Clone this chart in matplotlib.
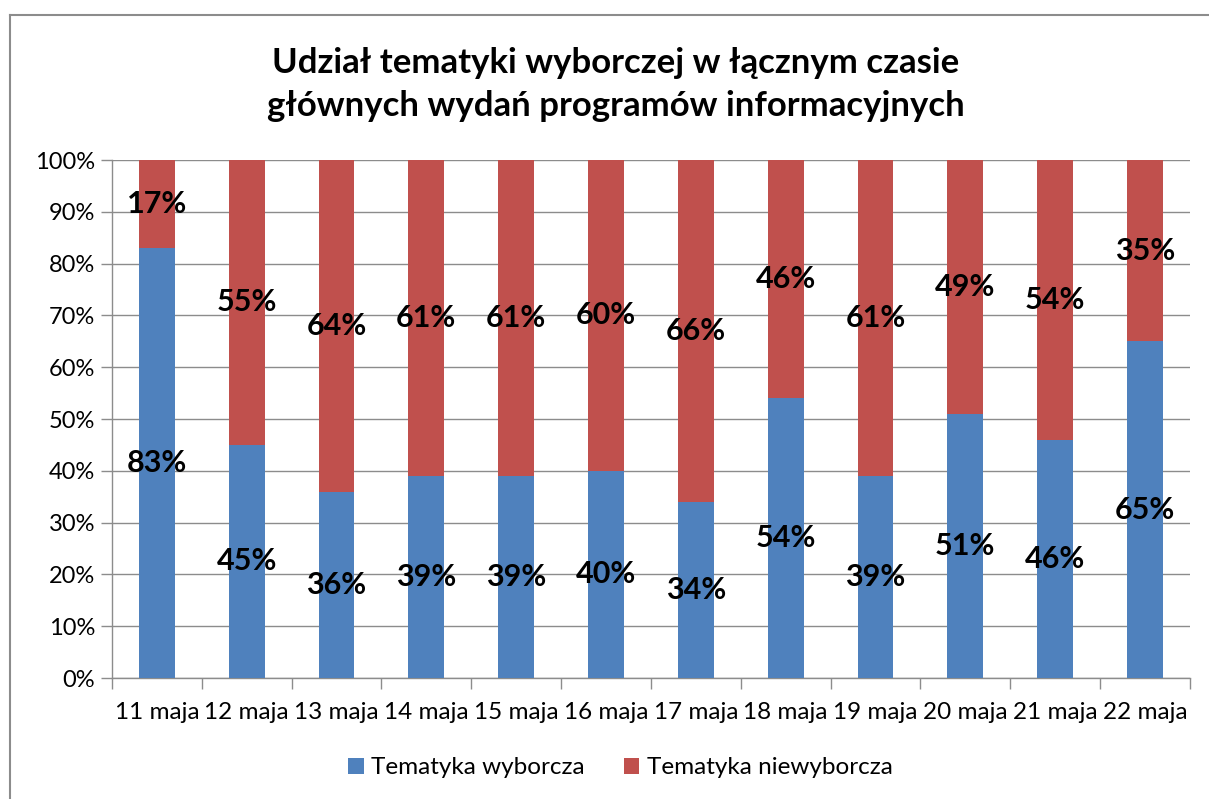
import matplotlib.pyplot as plt
from matplotlib.lines import Line2D
import numpy as np

plt.rcParams['font.family'] = ['Lato', 'DejaVu Sans']

dates = ['11 maja', '12 maja', '13 maja', '14 maja', '15 maja', '16 maja',
         '17 maja', '18 maja', '19 maja', '20 maja', '21 maja', '22 maja']
wyborcza = [83, 45, 36, 39, 39, 40, 34, 54, 39, 51, 46, 65]
niewyborcza = [17, 55, 64, 61, 61, 60, 66, 46, 61, 49, 54, 35]

blue = '#4F81BD'
red = '#C0504D'
grid = '#8C8C8C'

fig = plt.figure(figsize=(12.09, 7.99), dpi=100)
ax = fig.add_axes([0.0926, 0.1514, 0.8916, 0.6483])

x = np.arange(len(dates))
ax.bar(x, wyborcza, width=0.4, color=blue, label='Tematyka wyborcza', zorder=3)
ax.bar(x, niewyborcza, width=0.4, bottom=wyborcza, color=red,
       label='Tematyka niewyborcza', zorder=3)

for i in range(len(dates)):
    ax.text(x[i], wyborcza[i] / 2, f'{wyborcza[i]}%', ha='center', va='center',
            fontsize=22, fontweight='bold', zorder=4)
    ax.text(x[i], wyborcza[i] + niewyborcza[i] / 2, f'{niewyborcza[i]}%',
            ha='center', va='center', fontsize=22, fontweight='bold', zorder=4)

ax.set_xlim(-0.5, len(dates) - 0.5)
ax.set_ylim(0, 100)
ax.set_yticks(range(0, 101, 10))
ax.set_yticklabels([f'{v}%' for v in range(0, 101, 10)])
ax.yaxis.grid(True, color=grid, linewidth=1, zorder=0)

ax.set_xticks(x)
ax.set_xticklabels(dates)
ax.set_xticks(np.arange(-0.5, len(dates), 1), minor=True)
ax.tick_params(axis='x', which='major', length=0, pad=17, labelsize=17.5)
ax.tick_params(axis='x', which='minor', length=8, color=grid, width=1)
ax.tick_params(axis='y', length=8, color=grid, width=1, labelsize=17, pad=4)

for side in ['top', 'right']:
    ax.spines[side].set_visible(False)
for side in ['left', 'bottom']:
    ax.spines[side].set_color(grid)
    ax.spines[side].set_linewidth(1)

fig.text(0.509, 0.894, 'Udział tematyki wyborczej w łącznym czasie\n'
         'głównych wydań programów informacyjnych',
         ha='center', va='center', fontsize=25, fontweight='bold',
         linespacing=1.4)

fig.legend(loc='center', bbox_to_anchor=(0.513, 0.039), ncol=2, frameon=False,
           fontsize=17.5, handlelength=0.65, handleheight=0.65,
           handletextpad=0.3, columnspacing=1.6)

# outer chart frame
fig.add_artist(Line2D([0.0083, 0.0083], [0, 0.9812], color=grid, linewidth=1.5))
fig.add_artist(Line2D([0.0083, 1], [0.9812, 0.9812], color=grid, linewidth=1.5))

fig.savefig('out.png', dpi=100)
